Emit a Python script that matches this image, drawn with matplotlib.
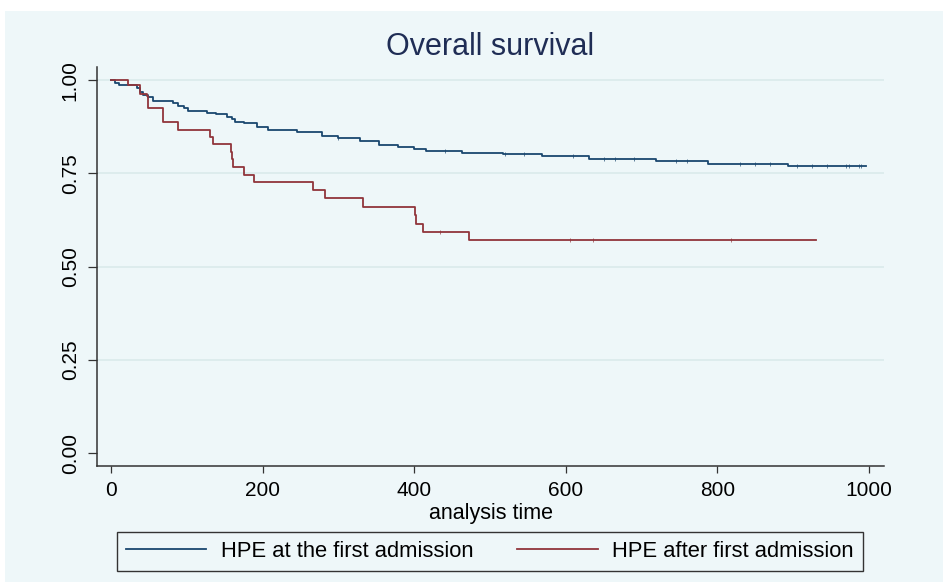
import matplotlib
matplotlib.use("Agg")
import matplotlib.pyplot as plt
from matplotlib.patches import Rectangle

plt.rcParams['font.family'] = ['Liberation Sans', 'DejaVu Sans']

# Kaplan-Meier steps
t_first = [0, 5, 10, 34, 38, 42, 49, 56, 82, 89, 96, 102, 126, 139, 153, 159,
           164, 175, 192, 207, 245, 278, 300, 328, 353, 379, 400, 416, 463,
           517, 568, 631, 719, 787, 893, 996]
s_first = [1.0, 0.993, 0.988, 0.978, 0.969, 0.960, 0.955, 0.945, 0.938, 0.931,
           0.926, 0.918, 0.913, 0.909, 0.902, 0.895, 0.888, 0.884, 0.875, 0.866,
           0.860, 0.851, 0.845, 0.836, 0.826, 0.820, 0.815, 0.809, 0.805, 0.801,
           0.796, 0.789, 0.782, 0.776, 0.769, 0.769]

t_after = [0, 23, 38, 47, 49, 69, 89, 131, 134, 158, 159, 161, 175, 189, 267,
           282, 332, 401, 403, 412, 472, 930]
s_after = [1.0, 0.986, 0.964, 0.957, 0.924, 0.887, 0.866, 0.848, 0.829, 0.808,
           0.788, 0.768, 0.746, 0.726, 0.705, 0.683, 0.660, 0.638, 0.615, 0.593,
           0.571, 0.571]

# censored observations (small ticks on the curves)
cens_first = [300, 440, 520, 545, 610, 650, 665, 690, 745, 760, 830, 850, 870,
              905, 925, 945, 970, 974, 987, 990]
cens_after = [434, 605, 636, 818]

labels = ["HPE at the first admission", "HPE after first admission"]
blue = "#1a476f"
red = "#90353b"
bg = "#eef7f9"

fig = plt.figure(figsize=(9.43, 5.82), dpi=100)
fig.patch.set_facecolor("white")
fig.add_artist(Rectangle((5 / 943, 0), 1, (582 - 11) / 582, transform=fig.transFigure,
                         facecolor=bg, edgecolor="none", zorder=-1))

ax = fig.add_axes([97 / 943, (582 - 466) / 582, 787 / 943, (466 - 66.7) / 582])
ax.set_facecolor(bg)

ax.step(t_first, s_first, where="post", color=blue, lw=1.3, label=labels[0])
ax.step(t_after, s_after, where="post", color=red, lw=1.3, label=labels[1])


def surv_at(ts, ss, x):
    v = ss[0]
    for t, s in zip(ts, ss):
        if t <= x:
            v = s
    return v


ax.plot(cens_first, [surv_at(t_first, s_first, c) for c in cens_first],
        ls="none", marker="|", ms=2.5, mew=0.6, color=blue, alpha=0.8)
ax.plot(cens_after, [surv_at(t_after, s_after, c) for c in cens_after],
        ls="none", marker="|", ms=2.5, mew=0.6, color=red, alpha=0.8)

ax.set_xlim(-18.5, 1019.8)
ax.set_ylim(-0.034, 1.036)
ax.set_xticks([0, 200, 400, 600, 800, 1000])
ax.set_yticks([0, 0.25, 0.5, 0.75, 1.0])
ax.set_yticklabels(["0.00", "0.25", "0.50", "0.75", "1.00"], rotation=90, va="center")

for y in [0.25, 0.5, 0.75, 1.0]:
    ax.axhline(y, color="#dcebec", lw=1.3, zorder=0)

for side in ["top", "right"]:
    ax.spines[side].set_visible(False)
for side in ["left", "bottom"]:
    ax.spines[side].set_color("#333333")
    ax.spines[side].set_linewidth(1.1)

ax.tick_params(axis="x", length=5, width=0.9, color="#333333", labelsize=15, pad=6)
ax.tick_params(axis="y", length=6.5, width=0.9, color="#333333", labelsize=15, pad=6)
ax.set_xlabel("analysis time", fontsize=15.5, labelpad=2)

fig.text(0.52, (582 - 47) / 582, "Overall survival", ha="center", va="center",
         fontsize=22, color="#1f2d55")

leg = fig.legend(loc="center", bbox_to_anchor=((108 + 872) / 2 / 943, (582 - 551.5) / 582),
                 ncol=2, fontsize=15.8, handlelength=3.65, handletextpad=0.68,
                 columnspacing=2.0, frameon=True, fancybox=False, borderpad=0.4,
                 borderaxespad=0)
leg.get_frame().set_edgecolor("#333333")
leg.get_frame().set_linewidth(1.0)
leg.get_frame().set_facecolor(bg)
leg.get_frame().set_alpha(1)

fig.savefig("out.png", dpi=100)
